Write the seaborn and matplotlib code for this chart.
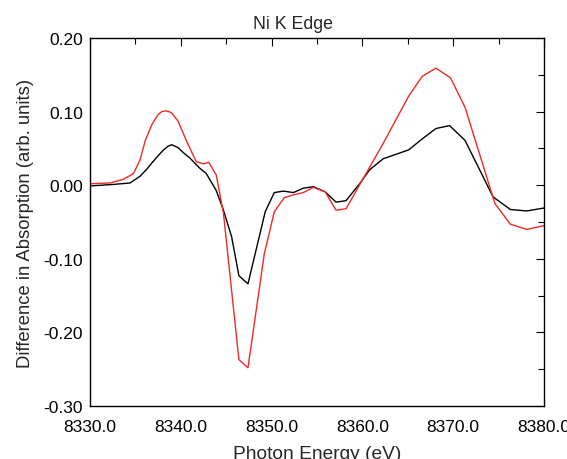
import matplotlib
matplotlib.use('Agg')
import matplotlib.pyplot as plt
import seaborn as sns
import pandas as pd
from matplotlib.ticker import MultipleLocator, FormatStrFormatter

# Difference spectra
energy_black = [8330.0, 8332.5, 8334.4, 8335.5, 8336.2, 8336.8, 8337.5, 8338.1, 8338.6,
                8339.0, 8339.7, 8340.3, 8341.0, 8342.1, 8342.8, 8343.9, 8344.7, 8345.6,
                8346.4, 8347.4, 8349.3, 8350.3, 8351.3, 8352.4, 8353.5, 8354.6, 8355.9,
                8357.1, 8358.2, 8359.7, 8360.8, 8362.3, 8365.1, 8366.6, 8368.1, 8369.6,
                8371.3, 8374.4, 8376.3, 8378.1, 8380.0]
diff_black = [-0.001, 0.001, 0.003, 0.012, 0.021, 0.030, 0.040, 0.048, 0.053,
              0.055, 0.051, 0.044, 0.037, 0.023, 0.016, -0.007, -0.034, -0.070,
              -0.123, -0.134, -0.036, -0.010, -0.008, -0.010, -0.004, -0.002, -0.009,
              -0.023, -0.021, 0.002, 0.021, 0.036, 0.048, 0.063, 0.077, 0.081,
              0.061, -0.016, -0.033, -0.035, -0.031]

energy_red = [8330.0, 8332.2, 8333.7, 8334.8, 8335.5, 8336.1, 8336.8, 8337.5, 8337.9,
              8338.3, 8338.7, 8339.0, 8339.7, 8340.6, 8341.7, 8342.5, 8343.1, 8343.9,
              8344.7, 8346.4, 8347.4, 8349.2, 8350.3, 8351.4, 8352.4, 8353.5, 8354.6,
              8355.9, 8357.1, 8358.2, 8362.3, 8365.1, 8366.6, 8368.1, 8369.7, 8371.3,
              8374.6, 8376.3, 8378.1, 8380.0]
diff_red = [0.002, 0.003, 0.008, 0.016, 0.034, 0.061, 0.082, 0.096, 0.100,
            0.101, 0.100, 0.098, 0.087, 0.061, 0.032, 0.029, 0.031, 0.014,
            -0.038, -0.237, -0.248, -0.093, -0.036, -0.017, -0.013, -0.010, -0.003,
            -0.009, -0.034, -0.032, 0.057, 0.121, 0.148, 0.159, 0.146, 0.106,
            -0.025, -0.053, -0.060, -0.055]

sns.set_style('white')
plt.rcParams['font.family'] = ['Liberation Sans', 'DejaVu Sans']
plt.rcParams['axes.unicode_minus'] = True

fig = plt.figure(figsize=(5.67, 4.60), dpi=100)
ax = fig.add_axes([0.1587, 0.1152, 0.8007, 0.8000])

df_black = pd.DataFrame({'energy': energy_black, 'diff': diff_black})
df_red = pd.DataFrame({'energy': energy_red, 'diff': diff_red})
sns.lineplot(data=df_black, x='energy', y='diff', color='black', lw=1.0, sort=False, ax=ax)
sns.lineplot(data=df_red, x='energy', y='diff', color='#ee2a24', lw=1.0, sort=False, ax=ax)

ax.set_xlim(8330, 8380)
ax.set_ylim(-0.30, 0.20)
ax.xaxis.set_major_locator(MultipleLocator(10))
ax.xaxis.set_minor_locator(MultipleLocator(5))
ax.yaxis.set_major_locator(MultipleLocator(0.1))
ax.yaxis.set_minor_locator(MultipleLocator(0.05))
ax.xaxis.set_major_formatter(FormatStrFormatter('%.1f'))
ax.yaxis.set_major_formatter(FormatStrFormatter('%.2f'))
ax.tick_params(which='both', direction='in', top=True, right=True, labelsize=12.5, colors='black')
ax.tick_params(which='major', length=6, width=0.8)
ax.tick_params(which='minor', length=4, width=0.8)
ax.tick_params(axis='x', pad=9)
ax.tick_params(axis='y', pad=5)
for s in ax.spines.values():
    s.set_color('black')
    s.set_linewidth(1.0)

ax.set_title('Ni K Edge', fontsize=12.8, pad=7, x=0.447)
ax.set_xlabel('Photon Energy (eV)', fontsize=13.8, labelpad=8)
ax.set_ylabel('Difference in Absorption (arb. units)', fontsize=13.3, labelpad=7)

fig.savefig('out.png', dpi=100)
